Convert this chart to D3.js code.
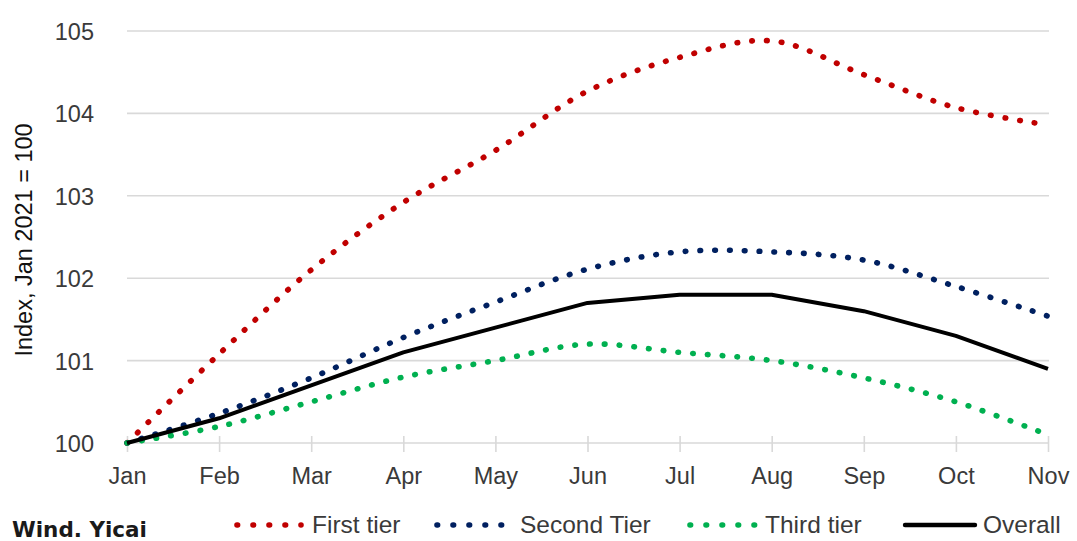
<!DOCTYPE html>
<html>
<head>
<meta charset="utf-8">
<script src="https://cdn.jsdelivr.net/npm/d3@7"></script>
<style>
  html, body { margin: 0; padding: 0; background: #fff; }
  svg { display: block; }
</style>
</head>
<body>
<svg id="chart" width="1077" height="541"></svg>
<script>
const months = ["Jan","Feb","Mar","Apr","May","Jun","Jul","Aug","Sep","Oct","Nov"];
const firstTier  = [100.0, 101.08, 102.1, 102.92, 103.55, 104.27, 104.68, 104.88, 104.47, 104.07, 103.86];
const secondTier = [100.0, 100.36, 100.79, 101.28, 101.71, 102.11, 102.32, 102.32, 102.22, 101.9, 101.54];
const thirdTier  = [100.0, 100.2, 100.5, 100.8, 101.0, 101.2, 101.1, 101.0, 100.79, 100.5, 100.1];
const overall    = [100.0, 100.3, 100.7, 101.1, 101.4, 101.7, 101.8, 101.8, 101.6, 101.3, 100.9];
const yTicks = [100, 101, 102, 103, 104, 105];
const seriesNames = ["First tier", "Second Tier", "Third tier", "Overall"];

const svg = d3.select("#chart");
const FONT = "'Liberation Sans', Arial, sans-serif";
const TXT = "#3a3a3a";

const x = d3.scalePoint().domain(months).range([127, 1048]);
const y = d3.scaleLinear().domain([100, 105]).range([443, 31]);

// gridlines
svg.append("g").selectAll("line").data(yTicks.filter(d => d !== 100)).join("line")
  .attr("x1", 127).attr("x2", 1049)
  .attr("y1", d => y(d)).attr("y2", d => y(d))
  .attr("stroke", "#d9d9d9").attr("stroke-width", 1.6);

// y axis labels
const yAxis = d3.axisLeft(y).tickValues(yTicks).tickSize(0).tickPadding(0).tickFormat(d3.format("d"));
const gy = svg.append("g").attr("transform", "translate(94,0)").call(yAxis);
gy.select(".domain").remove();
gy.selectAll("text").attr("font-family", FONT).attr("font-size", 23.5).attr("fill", TXT).attr("dy", "0.36em");

// x axis
const xAxis = d3.axisBottom(x).tickSizeInner(16).tickSizeOuter(0).tickPadding(20);
const gx = svg.append("g").attr("transform", "translate(0,443)").call(xAxis);
gx.select(".domain").attr("stroke", "#d9d9d9").attr("stroke-width", 1.6).attr("d", "M127,0H1049");
gx.selectAll(".tick line").attr("stroke", "#d9d9d9").attr("stroke-width", 1.6).attr("y1", -7).attr("y2", 9);
gx.selectAll("text").attr("font-family", FONT).attr("font-size", 23.5).attr("fill", TXT).attr("dy", "0.2em");

// y title
svg.append("text")
  .attr("transform", "translate(32,240) rotate(-90)")
  .attr("text-anchor", "middle")
  .attr("font-family", FONT).attr("font-size", 23.5).attr("fill", "#111")
  .text("Index, Jan 2021 = 100");

const series = [
  { name: seriesNames[0], values: firstTier,  color: "#c00000", dotted: true },
  { name: seriesNames[1], values: secondTier, color: "#002060", dotted: true },
  { name: seriesNames[2], values: thirdTier,  color: "#00b050", dotted: true },
  { name: seriesNames[3], values: overall,    color: "#000000", dotted: false }
];

const smooth = d3.line().x((d, i) => x(months[i])).y(d => y(d)).curve(d3.curveCatmullRom.alpha(0.5));
const straight = d3.line().x((d, i) => x(months[i])).y(d => y(d));

series.forEach(s => {
  const p = svg.append("path")
    .attr("d", s.dotted ? smooth(s.values) : straight(s.values))
    .attr("fill", "none")
    .attr("stroke", s.color);
  if (s.dotted) {
    p.attr("stroke-width", 5.6).attr("stroke-linecap", "round").attr("stroke-dasharray", "0.6 14.2");
  } else {
    p.attr("stroke-width", 4).attr("stroke-linejoin", "round");
  }
});

// source
svg.append("text").attr("x", 12).attr("y", 537)
  .attr("font-family", "'DejaVu Sans', Verdana, sans-serif").attr("font-weight", "bold")
  .attr("font-size", 21.5).attr("fill", "#1a1a1a").text("Wind. Yicai");

// legend
const legendItems = [
  { s: series[0], x0: 237, x1: 301, tx: 312 },
  { s: series[1], x0: 437, x1: 502, tx: 520 },
  { s: series[2], x0: 690, x1: 755, tx: 765 },
  { s: series[3], x0: 905, x1: 975, tx: 983 }
];
const lg = svg.append("g");
legendItems.forEach(it => {
  const l = lg.append("line").attr("x1", it.x0).attr("x2", it.x1).attr("y1", 525).attr("y2", 525)
    .attr("stroke", it.s.color);
  if (it.s.dotted) {
    l.attr("stroke-width", 5.6).attr("stroke-linecap", "round").attr("stroke-dasharray", "0.6 15.4");
  } else {
    l.attr("stroke-width", 4.4).attr("stroke-linecap", "round");
  }
  lg.append("text").attr("x", it.tx).attr("y", 533)
    .attr("font-family", FONT).attr("font-size", 24.5).attr("fill", TXT).text(it.s.name);
});
</script>
</body>
</html>
